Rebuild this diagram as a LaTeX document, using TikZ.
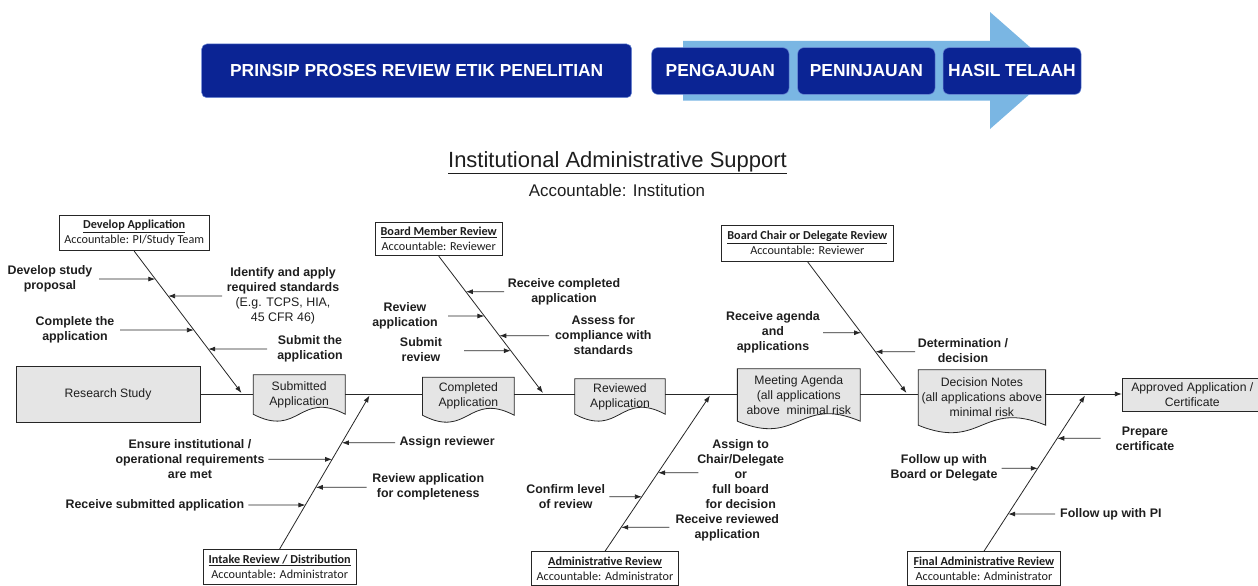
\documentclass[tikz,border=0pt]{standalone}
\usepackage{fontspec}
\setmainfont{Liberation Sans}
\newfontfamily\calfont{Carlito}
\usetikzlibrary{arrows.meta,calc}
\definecolor{navy}{RGB}{11,36,148}
\definecolor{navyedge}{RGB}{110,140,215}
\definecolor{skyarrow}{RGB}{122,182,227}
\definecolor{boxgray}{RGB}{229,229,229}
\definecolor{ink}{RGB}{30,30,30}
\pgfdeclarelayer{bg}
\pgfsetlayers{bg,main}
% feeder arrow onto a bone: #1 name, #2 bone start, #3 bone end, #4 start x, #5 y
\newcommand\feeder[5]{%
  \coordinate (#1s) at (#4,#5);
  \path (intersection of #2--#3 and 0,#5--1200,#5) coordinate (#1t);
  \draw[feed] (#1s) -- (#1t);}
% document shape behind a node: #1 node name, #2 wave control offset
\newcommand\docpath[2]{%
  \begin{pgfonlayer}{bg}
  \draw[docline] (#1.north west) -- (#1.north east) -- (#1.south east)
     .. controls ($(#1.south)+(0,-#2)$) and ($(#1.south)+(0,#2)$) .. (#1.south west) -- cycle;
  \end{pgfonlayer}}
\begin{document}
\begin{tikzpicture}[x=1pt,y=-1pt,
  banner/.style={fill=navy, draw=navyedge, line width=0.5pt, rounded corners=5pt,
     text=white, font=\fontsize{17.4}{20}\selectfont\bfseries, inner sep=0pt},
  lbl/.style={font=\fontsize{12.4}{15}\selectfont\bfseries, align=center, inner sep=0pt, text=ink},
  doctext/.style={font=\fontsize{12.2}{15}\selectfont, align=center, inner sep=0pt, text=ink},
  docline/.style={draw=black!85, line width=0.8pt, fill=boxgray},
  graybox/.style={draw=black!85, line width=0.8pt, fill=boxgray, font=\fontsize{12.2}{15}\selectfont,
     align=center, inner sep=0pt, text=ink},
  rolebox/.style={draw=black!85, line width=0.8pt, fill=white, font=\calfont\fontsize{12.2}{14.7}\selectfont,
     align=center, inner sep=0pt, text=ink},
  ln/.style={draw=black!85, line width=0.8pt},
  bone/.style={draw=black!85, line width=0.8pt, -{Latex[length=7pt,width=5pt]}},
  feed/.style={draw=black!85, line width=0.8pt, -{Latex[length=7pt,width=5pt]}}
]
\useasboundingbox (0,0) rectangle (1258,586);

% ---------- header ----------
\node[banner, minimum width=430pt, minimum height=53.7pt] (ttl) at (416.7,70.85)
   {PRINSIP PROSES REVIEW ETIK PENELITIAN};
\fill[skyarrow] (683,41) -- (990,41) -- (990,12) -- (1056.6,70.5) -- (990,129) -- (990,100.5) -- (683,100.5) -- cycle;
\node[banner, rounded corners=6pt, minimum width=137.3pt, minimum height=46.6pt] (peng) at (720.35,71) {PENGAJUAN};
\node[banner, rounded corners=6pt, minimum width=137.3pt, minimum height=46.6pt] (penin) at (866.35,71) {PENINJAUAN};
\node[banner, rounded corners=6pt, minimum width=138pt, minimum height=46.6pt] (hasil) at (1012,71) {HASIL TELAAH};

\node[font=\fontsize{22}{26}\selectfont, inner sep=0pt, text=ink] (inst) at (617.5,163)
   {\underline{Institutional Administrative Support}};
\node[font=\fontsize{16.9}{20}\selectfont, inner sep=0pt, text=ink] (acc) at (617,190) {Accountable: Institution};

% ---------- spine nodes ----------
\node[graybox, minimum width=184pt, minimum height=56pt] (rs) at (108,394) {Research Study};
\node[doctext, minimum width=91.7pt, minimum height=39pt] (sub) at (299.2,394.5) {Submitted\\Application};
\node[doctext, minimum width=91.3pt, minimum height=37.7pt] (comp) at (468.4,396.2) {Completed\\Application};
\node[doctext, minimum width=90pt, minimum height=35pt] (rev) at (620,396.5) {Reviewed\\Application};
\node[doctext, minimum width=122.5pt, minimum height=52pt] (meet) at (798.8,395) {Meeting Agenda\\(all applications\\above~ minimal risk};
\node[doctext, minimum width=127pt, minimum height=55pt] (dec) at (981.9,397.5) {Decision Notes\\(all applications above\\minimal risk};
\node[graybox, minimum width=140pt, minimum height=33.4pt] (appr) at (1192.3,395) {Approved Application /\\Certificate};

\docpath{sub}{24}
\docpath{comp}{24}
\docpath{rev}{24}
\docpath{meet}{26}
\docpath{dec}{26}

\draw[ln] (rs.east) -- (sub.west |- rs.east);
\draw[ln] (sub.east |- rs.east) -- (comp.west |- rs.east);
\draw[ln] (comp.east |- rs.east) -- (rev.west |- rs.east);
\draw[ln] (rev.east |- rs.east) -- (meet.west |- rs.east);
\draw[ln] (meet.east |- rs.east) -- (dec.west |- rs.east);
\draw[bone] (dec.east |- rs.east) -- (appr.west |- rs.east);

% ---------- role boxes ----------
\node[rolebox, minimum width=149.7pt, minimum height=35.7pt] (dev) at (134.2,232.9)
   {\underline{\textbf{Develop Application}}\\Accountable: PI/Study Team};
\node[rolebox, minimum width=127.3pt, minimum height=33.4pt] (bmr) at (438.7,239)
   {\underline{\textbf{Board Member Review}}\\Accountable: Reviewer};
\node[rolebox, minimum width=171.8pt, minimum height=36pt] (bcd) at (807.3,243)
   {\underline{\textbf{Board Chair or Delegate Review}}\\Accountable: Reviewer};
\node[rolebox, minimum width=152.7pt, minimum height=35pt] (intk) at (279.7,566.8)
   {\underline{\textbf{Intake Review / Distribution}}\\Accountable: Administrator};
\node[rolebox, minimum width=146.6pt, minimum height=33.8pt] (adm) at (605,568.6)
   {\underline{\textbf{Administrative Review}}\\Accountable: Administrator};
\node[rolebox, minimum width=152.3pt, minimum height=33.8pt] (fin) at (983.9,568.6)
   {\underline{\textbf{Final Administrative Review}}\\Accountable: Administrator};

% ---------- bones ----------
\coordinate (m1) at (241.5,393);
\coordinate (m2) at (543,393);
\coordinate (m3) at (906.5,393);
\coordinate (m4) at (369.5,395.5);
\coordinate (m5) at (710,395.5);
\coordinate (m6) at (1085,395.5);
\draw[bone] (dev.south) -- (m1);
\draw[bone] (bmr.south) -- (m2);
\draw[bone] (bcd.south) -- (m3);
\draw[bone] (intk.north) -- (m4);
\draw[bone] (adm.north) -- (m5);
\draw[bone] (fin.north) -- (m6);

% ---------- labels ----------
\node[lbl] (l1) at (50,278.5) {Develop study\\proposal};
\node[lbl] (l2) at (283,295.5) {Identify and apply\\required standards\\\mdseries (E.g. TCPS, HIA,\\\mdseries 45 CFR 46)};
\node[lbl] (l3) at (75,330) {Complete the\\application};
\node[lbl] (l4) at (310,349) {Submit the\\application};
\node[lbl] (l5) at (564,292) {Receive completed\\application};
\node[lbl] (l6) at (405,315.7) {Review\\application};
\node[lbl] (l7) at (603.3,335.5) {Assess for\\compliance with\\standards};
\node[lbl] (l8) at (421,350) {Submit\\review};
\node[lbl] (l9) at (773,332.4) {Receive agenda\\and\\applications};
\node[lbl] (l10) at (963,351) {Determination /\\decision};
\node[lbl,anchor=west] (l11) at (399.3,442.7) {Assign reviewer};
\node[lbl] (l12) at (190,459.3) {Ensure institutional /\\operational requirements\\are met};
\node[lbl] (l13) at (428.3,486.7) {Review application\\for completeness};
\node[lbl,anchor=east] (l14) at (244.3,505) {Receive submitted application};
\node[lbl] (l15) at (740.7,473.8) {Assign to\\Chair/Delegate\\or\\full board\\for decision};
\node[lbl] (l16) at (565.7,496.8) {Confirm level\\of review};
\node[lbl] (l17) at (727.3,528) {Receive reviewed\\application};
\node[lbl] (l18) at (1145,438.8) {Prepare\\certificate};
\node[lbl] (l19) at (944,468.3) {Follow up with\\Board or Delegate};
\node[lbl,anchor=west] (l20) at (1060,514) {Follow up with PI};

% ---------- feeder arrows ----------
\feeder{f1}{dev.south}{m1}{99}{279}
\feeder{f2}{dev.south}{m1}{222}{296}
\feeder{f3}{dev.south}{m1}{120}{330}
\feeder{f4}{dev.south}{m1}{267}{349}
\feeder{f5}{bmr.south}{m2}{504}{291.7}
\feeder{f6}{bmr.south}{m2}{448}{316}
\feeder{f7}{bmr.south}{m2}{549}{335.7}
\feeder{f8}{bmr.south}{m2}{464}{350.7}
\feeder{f9}{bcd.south}{m3}{823}{332.7}
\feeder{f10}{bcd.south}{m3}{915}{351.7}
\feeder{f11}{intk.north}{m4}{395}{442.7}
\feeder{f12}{intk.north}{m4}{268.3}{459.3}
\feeder{f13}{intk.north}{m4}{366.7}{487.3}
\feeder{f14}{intk.north}{m4}{248.3}{505}
\feeder{f15}{adm.north}{m5}{698.3}{472.7}
\feeder{f16}{adm.north}{m5}{609.3}{496.7}
\feeder{f17}{adm.north}{m5}{669.3}{527.3}
\feeder{f18}{fin.north}{m6}{1100.7}{438.3}
\feeder{f19}{fin.north}{m6}{1001.7}{468.3}
\feeder{f20}{fin.north}{m6}{1055}{514}
\end{tikzpicture}
\end{document}
